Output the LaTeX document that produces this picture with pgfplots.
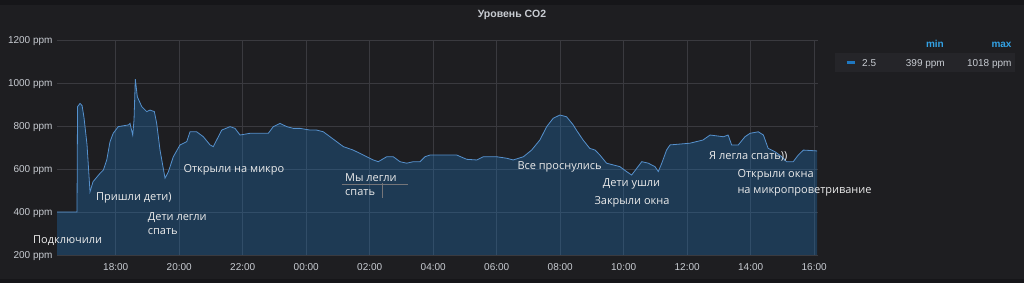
\documentclass[border=0pt]{standalone}
\usepackage{pgfplots}
\usepackage{pgfplotstable}
\pgfplotsset{compat=1.18}
\usepackage{fontspec}
\setmainfont{Liberation Sans}
\newfontfamily\annfont{Open Sans}
\definecolor{bg}{RGB}{30,30,33}
\definecolor{bgdark}{RGB}{22,22,25}
\definecolor{gridc}{RGB}{58,58,63}
\definecolor{fillc}{RGB}{31,120,193}
\definecolor{linec}{RGB}{86,145,205}
\definecolor{tickc}{RGB}{200,204,210}
\definecolor{annc}{RGB}{236,236,236}
\definecolor{legblue}{RGB}{51,162,229}
\definecolor{rowbg}{RGB}{37,37,41}

\pgfplotstableread{
h ppm
16.152 400
16.780 400
16.797 890
16.876 905
16.940 895
17.000 840
17.096 712
17.190 494
17.285 541
17.506 580
17.610 595
17.717 642
17.820 727
17.920 766
18.080 797
18.400 805
18.450 812
18.535 758
18.576 828
18.617 1018
18.680 936
18.820 890
18.976 867
19.080 874
19.216 867
19.290 812
19.395 688
19.553 557
19.657 587
19.814 657
20.025 712
20.236 727
20.340 773
20.550 773
20.760 750
20.970 712
21.074 704
21.180 735
21.340 781
21.600 797
21.757 789
21.915 758
22.230 766
22.545 766
22.806 766
22.964 797
23.175 812
23.386 797
23.594 789
23.805 789
24.120 781
24.330 781
24.540 773
24.750 750
24.960 727
25.170 704
25.480 688
25.800 665
26.110 642
26.270 634
26.535 657
26.743 657
26.954 634
27.165 627
27.373 634
27.584 634
27.740 657
27.900 665
28.740 665
29.055 645
29.370 642
29.580 657
30.000 657
30.315 650
30.520 642
30.840 657
31.100 688
31.360 735
31.575 797
31.780 836
31.990 851
32.200 843
32.410 805
32.510 781
32.720 735
32.930 696
33.100 688
33.250 665
33.460 627
33.670 619
33.880 611
34.090 588
34.250 572
34.410 603
34.570 634
34.775 627
34.985 611
35.090 588
35.200 627
35.350 688
35.460 712
36.090 720
36.500 735
36.720 758
37.140 750
37.290 758
37.400 712
37.610 712
37.820 750
37.980 766
38.240 773
38.400 758
38.550 696
38.770 680
38.980 657
39.130 634
39.340 634
39.500 665
39.660 688
40.090 684
}\codata

\begin{document}
\begin{tikzpicture}[x=1pt,y=1pt]
\useasboundingbox (0,0) rectangle (1024,283);
\fill[bgdark] (0,0) rectangle (1024,283);
\fill[bg] (0,4) rectangle (1024,278);
% legend row background
\fill[rowbg] (835,211.3) rectangle (1015,229.7);
\begin{axis}[
  at={(57pt,28pt)}, anchor=south west,
  scale only axis, width=761.3pt, height=215pt,
  xmin=16.15, xmax=40.13, ymin=200, ymax=1200,
  axis line style={draw=none},
  major tick length=0pt,
  xtick={18,20,...,40},
  xticklabels={18:00,20:00,22:00,00:00,02:00,04:00,06:00,08:00,10:00,12:00,14:00,16:00},
  ytick={200,400,...,1200},
  yticklabels={200 ppm,400 ppm,600 ppm,800 ppm,1000 ppm,1200 ppm},
  grid=major,
  major grid style={draw=gridc, line width=0.7pt},
  tick label style={font=\fontsize{10}{12}\selectfont, text=tickc, inner sep=0pt},
  xticklabel style={anchor=base, yshift=-15.2pt},
  yticklabel style={anchor=base east, xshift=-4.3pt, yshift=-3.6pt},
]
\addplot[fill=fillc, fill opacity=0.32, draw=none] table[x=h,y=ppm] {\codata} \closedcycle;
\addplot[draw=linec, line width=0.8pt, mark=none] table[x=h,y=ppm] {\codata};
\end{axis}
% title
\node[anchor=base, text=tickc, font=\fontsize{10.5}{12}\selectfont\bfseries] at (512,265) {Уровень CO2};
% legend
\node[anchor=base east, text=legblue, font=\fontsize{10}{12}\selectfont\bfseries, inner sep=0] at (944,235.5) {min};
\node[anchor=base east, text=legblue, font=\fontsize{10}{12}\selectfont\bfseries, inner sep=0] at (1011.7,235.5) {max};
\draw[fillc, line width=3pt] (846.7,220.3) -- (855,220.3);
\node[anchor=base west, text=tickc, font=\fontsize{10}{12}\selectfont, inner sep=0] at (862,216.5) {2.5};
\node[anchor=base east, text=tickc, font=\fontsize{10}{12}\selectfont, inner sep=0] at (945,216.5) {399 ppm};
\node[anchor=base east, text=tickc, font=\fontsize{10}{12}\selectfont, inner sep=0] at (1011.7,216.5) {1018 ppm};
% annotations
\begin{scope}[every node/.style={anchor=base west, inner sep=0, text=annc, font=\annfont\fontsize{11}{13}\selectfont}]
\node at (33,39.7) {Подключили};
\node at (96,82.3) {Пришли дети)};
\node at (147.7,62.3) {Дети легли};
\node at (147.7,48.5) {спать};
\node at (183.3,110) {Открыли на микро};
\node at (345,101.3) {Мы легли};
\node at (345,87.5) {спать};
\node at (517.3,113) {Все проснулись};
\node at (602.7,96.3) {Дети ушли};
\node at (594.3,78.3) {Закрыли окна};
\node at (709,123) {Я легла спать))};
\node at (737.3,105) {Открыли окна};
\node at (737.3,89.5) {на микропроветривание};
\end{scope}
\draw[gridc!70!white, line width=0.5pt] (341.7,98.7) -- (408.3,98.7);
\draw[gridc!70!white, line width=0.5pt] (382.7,100) -- (382.7,85);
\end{tikzpicture}
\end{document}
